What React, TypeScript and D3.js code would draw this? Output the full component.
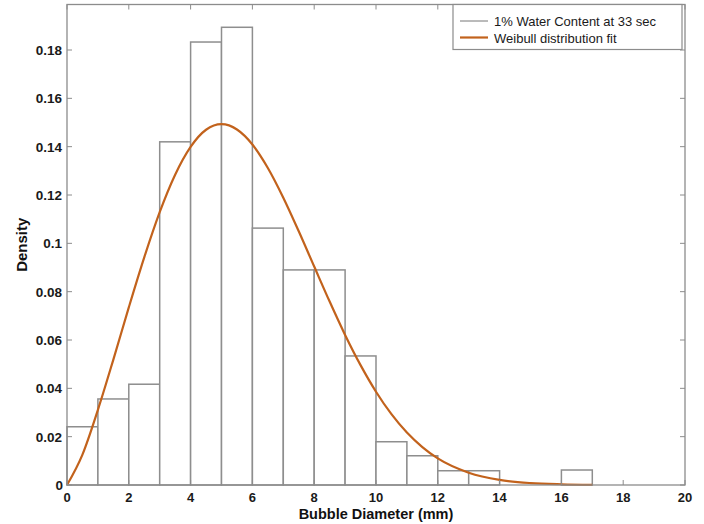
import React from "react";
import * as d3 from "d3";

const binStarts = [0, 1, 2, 3, 4, 5, 6, 7, 8, 9, 10, 11, 12, 13, 14, 15, 16];
const binDensity = [0.0241, 0.0356, 0.0417, 0.142, 0.1833, 0.1894, 0.1063, 0.089, 0.089, 0.0534, 0.0179, 0.0121, 0.0059, 0.0059, 0, 0, 0.0062];
const binWidth = 1;

const fitX = [0, 0.5, 1, 1.5, 2, 2.5, 3, 3.5, 4, 4.5, 5, 5.5, 6, 6.5, 7, 7.5, 8, 8.5, 9, 9.5, 10, 10.5, 11, 11.5, 12, 13, 14, 15, 16, 17];
const fitY = [0, 0.0126, 0.0311, 0.0519, 0.0735, 0.0942, 0.1129, 0.1284, 0.1399, 0.147, 0.1493, 0.1471, 0.1409, 0.1312, 0.1189, 0.105, 0.0904, 0.0759, 0.0621, 0.0496, 0.0386, 0.0293, 0.0217, 0.0157, 0.011, 0.0051, 0.0021, 0.0008, 0.0003, 0.0001];

const xTicks = [0, 2, 4, 6, 8, 10, 12, 14, 16, 18, 20];
const yTicks = [0, 0.02, 0.04, 0.06, 0.08, 0.1, 0.12, 0.14, 0.16, 0.18];

const legendLabels = ["1% Water Content at 33 sec", "Weibull distribution fit"];
const xLabel = "Bubble Diameter (mm)";
const yLabel = "Density";

const W = 704, H = 524;
const left = 67, right = 685, bottom = 485, top = 4.5;

export default function App() {
  const x = d3.scaleLinear().domain([0, 20]).range([left, right]);
  const y = d3.scaleLinear().domain([0, 0.18]).range([bottom, 50]);
  const line = d3.line<number>()
    .x((_, i) => x(fitX[i]))
    .y((d) => y(d))
    .curve(d3.curveMonotoneX);
  const axisColor = "#8c8c8c";
  const font = "'Liberation Sans', Arial, Helvetica, sans-serif";
  const tickLen = 5;
  return (
    <svg width={W} height={H} style={{ position: "absolute", left: 0, top: 0, background: "#fff" }}>
      <rect x={0} y={0} width={W} height={H} fill="#fff" />
      {binStarts.map((s, i) => (
        binDensity[i] > 0 ? (
          <rect key={i} x={x(s)} y={y(binDensity[i])} width={x(s + binWidth) - x(s)} height={bottom - y(binDensity[i])}
            fill="#fff" stroke="#8e8e8e" strokeWidth={1.5} />
        ) : null
      ))}
      <path d={line(fitY) || ""} fill="none" stroke="#c2621c" strokeWidth={2.2} />
      {/* frame */}
      <rect x={left} y={top} width={right - left} height={bottom - top} fill="none" stroke={axisColor} strokeWidth={1.3} />
      {xTicks.map((t) => (
        <g key={"x" + t}>
          <line x1={x(t)} x2={x(t)} y1={bottom} y2={bottom - tickLen} stroke={axisColor} strokeWidth={1} />
          <line x1={x(t)} x2={x(t)} y1={top} y2={top + tickLen} stroke={axisColor} strokeWidth={1} />
          <text x={x(t)} y={501.5} textAnchor="middle" fontFamily={font} fontSize={13} fontWeight={600} fill="#1a1a1a">{d3.format("~g")(t)}</text>
        </g>
      ))}
      {yTicks.map((t) => (
        <g key={"y" + t}>
          <line x1={left} x2={left + tickLen} y1={y(t)} y2={y(t)} stroke={axisColor} strokeWidth={1} />
          <line x1={right} x2={right - tickLen} y1={y(t)} y2={y(t)} stroke={axisColor} strokeWidth={1} />
          <text x={t === 0 ? 63 : 62} y={y(t) + 5} textAnchor="end" fontFamily={font} fontSize={13.5} fontWeight={600} fill="#1a1a1a">{d3.format("~g")(t)}</text>
        </g>
      ))}
      <text x={(left + right) / 2} y={518.5} textAnchor="middle" fontFamily={font} fontSize={14.5} fontWeight="bold" fill="#111">{xLabel}</text>
      <text transform={`translate(27, ${(top + bottom) / 2}) rotate(-90)`} textAnchor="middle" fontFamily={font} fontSize={15} fontWeight="bold" fill="#111">{yLabel}</text>
      {/* legend */}
      <rect x={453} y={top} width={229} height={45} fill="#fff" stroke={axisColor} strokeWidth={1.2} />
      <line x1={460} x2={488} y1={21} y2={21} stroke="#777" strokeWidth={1} />
      <line x1={460} x2={488} y1={37.5} y2={37.5} stroke="#c2621c" strokeWidth={2.2} />
      <text x={494} y={26} fontFamily={font} fontSize={13} fill="#1a1a1a">{legendLabels[0]}</text>
      <text x={494} y={42.5} fontFamily={font} fontSize={13} fill="#1a1a1a">{legendLabels[1]}</text>
    </svg>
  );
}
